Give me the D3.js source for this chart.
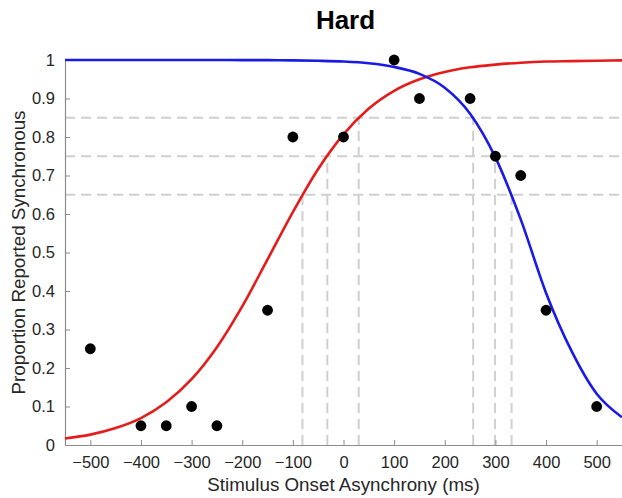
<!DOCTYPE html>
<html>
<head>
<meta charset="utf-8">
<script src="https://cdn.jsdelivr.net/npm/d3@7"></script>
<style>
  body { margin: 0; background: #fff; }
  text { font-family: "Liberation Sans", Arial, Helvetica, sans-serif; }
</style>
</head>
<body>
<script>
// observed points
const soa = [-500, -400, -350, -300, -250, -150, -100, 0, 100, 150, 250, 300, 350, 400, 500];
const propSync = [0.25, 0.05, 0.05, 0.1, 0.05, 0.35, 0.8, 0.8, 1.0, 0.9, 0.9, 0.75, 0.7, 0.35, 0.1];

// fitted curves, every 50 ms
const curveX = [-550, -500, -450, -400, -350, -300, -250, -200, -150, -100, -50, 0, 50, 100, 150, 200, 250, 300, 350, 400, 450, 500, 550];
const redFit = [0.017, 0.027, 0.044, 0.070, 0.111, 0.171, 0.254, 0.360, 0.482, 0.605, 0.717, 0.807, 0.874, 0.920, 0.950, 0.969, 0.981, 0.988, 0.993, 0.996, 0.997, 0.998, 0.999];
const blueFit = [1.0, 1.0, 1.0, 1.0, 1.0, 1.0, 0.9999, 0.9998, 0.9996, 0.9991, 0.998, 0.996, 0.9915, 0.982, 0.964, 0.928, 0.8605, 0.747, 0.586, 0.395, 0.245, 0.133, 0.072];

// threshold levels and where each curve crosses them
const levels = [0.65, 0.75, 0.85];
const redCross = [-81, -32, 30];
const blueCross = [332, 299, 256];

const xTicks = [-500, -400, -300, -200, -100, 0, 100, 200, 300, 400, 500];
const yTicks = [0, 0.1, 0.2, 0.3, 0.4, 0.5, 0.6, 0.7, 0.8, 0.9, 1];

const W = 622, H = 498;
const svg = d3.select("body").append("svg")
    .attr("width", W)
    .attr("height", H);

const x = d3.scaleLinear().domain([-550, 550]).range([65, 622]);
const y = d3.scaleLinear().domain([0, 1]).range([445, 60]);

const dashStyle = g => g.attr("stroke", "#cfcfcf")
    .attr("stroke-width", 2)
    .attr("stroke-dasharray", "10,6")
    .attr("fill", "none");

// horizontal dashed guides
svg.selectAll(".hguide")
    .data(levels)
    .join("line")
    .attr("class", "hguide")
    .attr("x1", x(-550)).attr("x2", x(550))
    .attr("y1", d => y(d)).attr("y2", d => y(d))
    .call(dashStyle);

// vertical dashed guides
const crossings = levels.map((l, i) => ({ x: redCross[i], l }))
    .concat(levels.map((l, i) => ({ x: blueCross[i], l })));
svg.selectAll(".vguide")
    .data(crossings)
    .join("line")
    .attr("class", "vguide")
    .attr("x1", d => x(d.x)).attr("x2", d => x(d.x))
    .attr("y1", y(0)).attr("y2", d => y(d.l))
    .call(dashStyle);

// axes
const xAxis = svg.append("g")
    .attr("transform", `translate(0,${y(0)})`)
    .call(d3.axisBottom(x).tickValues(xTicks).tickSize(-5).tickPadding(11).tickSizeOuter(0));
const yAxis = svg.append("g")
    .attr("transform", `translate(${x(-550)},0)`)
    .call(d3.axisLeft(y).tickValues(yTicks).tickSize(-5).tickPadding(10).tickSizeOuter(0)
        .tickFormat(d3.format("~g")));

[xAxis, yAxis].forEach(a => {
    a.select(".domain").attr("stroke", "#8c8c8c").attr("stroke-width", 1.2);
    a.selectAll(".tick line").attr("stroke", "#8c8c8c");
    a.selectAll(".tick text").attr("fill", "#262626").style("font-size", "16.5px");
});
xAxis.select(".domain").attr("d", `M${x(-550)},0.5H${x(550)}`);

// fitted curves
const line = vals => d3.line()
    .x((d, i) => x(curveX[i]))
    .y(d => y(d))
    .curve(d3.curveMonotoneX)(vals);

svg.append("path")
    .attr("d", line(redFit))
    .attr("fill", "none")
    .attr("stroke", "#e41c1c")
    .attr("stroke-width", 2.6);

svg.append("path")
    .attr("d", line(blueFit))
    .attr("fill", "none")
    .attr("stroke", "#1a1ae6")
    .attr("stroke-width", 2.6);

// data points
svg.selectAll(".pt")
    .data(soa)
    .join("circle")
    .attr("class", "pt")
    .attr("cx", d => x(d))
    .attr("cy", (d, i) => y(propSync[i]))
    .attr("r", 5.4)
    .attr("fill", "#000");

// title and labels
svg.append("text")
    .attr("x", (x(-550) + x(550)) / 2 + 2)
    .attr("y", 29)
    .attr("text-anchor", "middle")
    .style("font-size", "26px")
    .style("font-weight", "bold")
    .attr("fill", "#000")
    .text("Hard");

svg.append("text")
    .attr("x", (x(-550) + x(550)) / 2)
    .attr("y", 491)
    .attr("text-anchor", "middle")
    .style("font-size", "18.8px")
    .attr("fill", "#262626")
    .text("Stimulus Onset Asynchrony (ms)");

svg.append("text")
    .attr("transform", `translate(25,${(y(0) + y(1)) / 2}) rotate(-90)`)
    .attr("text-anchor", "middle")
    .style("font-size", "18.8px")
    .attr("fill", "#262626")
    .text("Proportion Reported Synchronous");
</script>
</body>
</html>
